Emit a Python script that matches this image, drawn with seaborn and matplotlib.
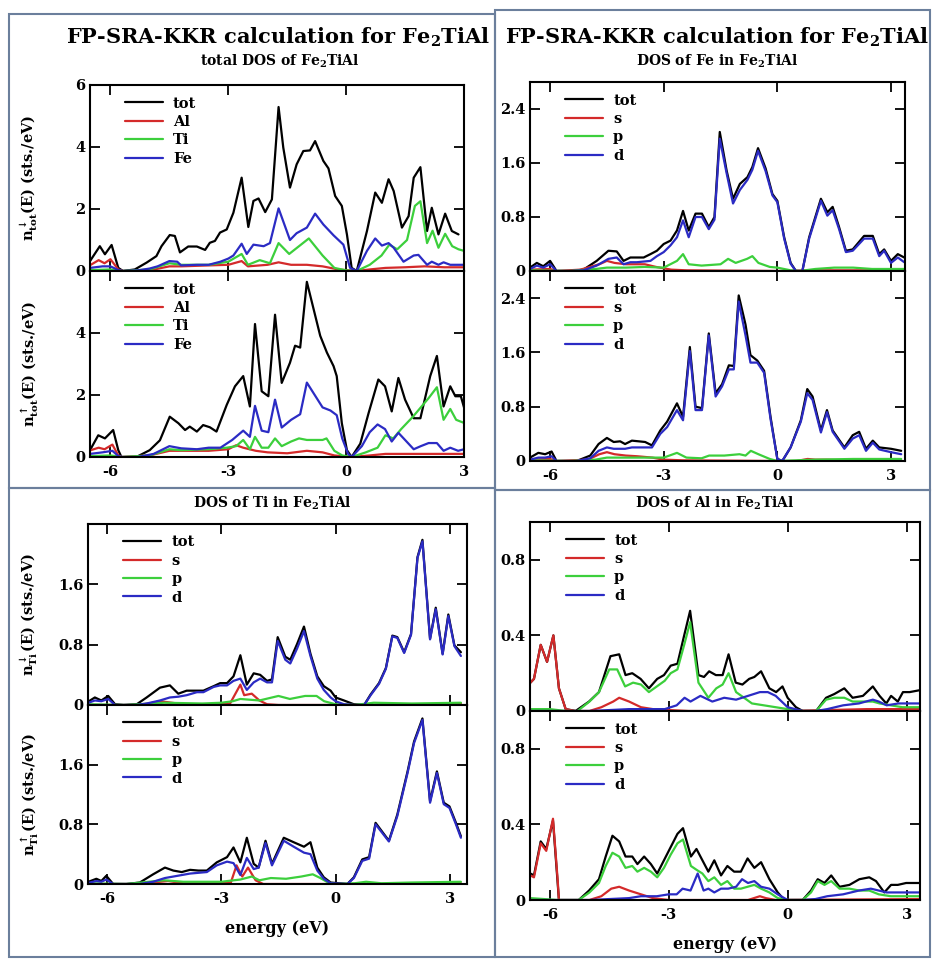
import matplotlib
matplotlib.use("Agg")
import matplotlib.pyplot as plt
import seaborn as sns

# ---- total DOS of Fe2TiAl (spin down) ----
t_tot_dn_e = [-6.52, -6.27, -6.14, -5.97, -5.80, -5.68, -5.38, -5.08, -4.83, -4.70, -4.49, -4.36, -4.23, -4.02, -3.80, -3.59, -3.47, -3.34, -3.21, -3.04, -2.87, -2.66, -2.49, -2.36, -2.23, -2.06, -1.89, -1.72, -1.60, -1.43, -1.26, -1.09, -0.92, -0.79, -0.58, -0.45, -0.28, -0.11, 0.02, 0.14, 0.27, 0.53, 0.74, 0.91, 1.08, 1.21, 1.42, 1.59, 1.72, 1.89, 2.06, 2.18, 2.35, 2.52, 2.69, 2.86]
t_tot_dn = [0.32, 0.80, 0.54, 0.84, 0.10, 0.00, 0.05, 0.27, 0.48, 0.80, 1.16, 1.13, 0.60, 0.79, 0.79, 0.68, 0.91, 0.97, 1.24, 1.34, 1.88, 3.01, 1.42, 2.26, 2.34, 1.90, 2.31, 5.29, 3.98, 2.69, 3.44, 3.87, 3.89, 4.19, 3.55, 3.31, 2.42, 2.10, 1.18, 0.10, 0.00, 1.29, 2.53, 2.20, 2.96, 2.58, 1.40, 1.77, 3.01, 3.35, 1.29, 2.04, 1.18, 1.85, 1.29, 1.18]
t_al_dn_e = [-6.5, -6.3, -6.15, -6.0, -5.8, -5.68, -5.0, -4.5, -4.2, -3.5, -3.0, -2.66, -2.5, -2.0, -1.72, -1.4, -1.0, -0.6, -0.2, 0.27, 0.6, 1.0, 1.5, 2.0, 2.5, 3.0]
t_al_dn = [0.20, 0.35, 0.25, 0.38, 0.05, 0.00, 0.02, 0.15, 0.15, 0.18, 0.20, 0.32, 0.15, 0.20, 0.28, 0.20, 0.20, 0.15, 0.05, 0.00, 0.05, 0.10, 0.12, 0.15, 0.12, 0.12]
t_ti_dn_e = [-6.5, -6.0, -5.7, -5.0, -4.5, -4.2, -3.5, -3.0, -2.66, -2.5, -2.2, -1.94, -1.72, -1.45, -1.2, -0.95, -0.6, -0.3, 0.0, 0.27, 0.6, 0.9, 1.1, 1.3, 1.55, 1.75, 1.89, 2.06, 2.2, 2.35, 2.52, 2.7, 2.86, 3.0]
t_ti_dn = [0.03, 0.05, 0.00, 0.05, 0.25, 0.20, 0.20, 0.30, 0.55, 0.20, 0.35, 0.25, 0.90, 0.55, 0.80, 1.05, 0.50, 0.10, 0.02, 0.00, 0.20, 0.50, 0.85, 0.70, 1.00, 2.10, 2.25, 0.90, 1.30, 0.75, 1.20, 0.80, 0.70, 0.65]
t_fe_dn_e = [-6.52, -6.2, -6.0, -5.8, -5.68, -5.3, -5.0, -4.8, -4.5, -4.3, -4.2, -3.8, -3.5, -3.2, -3.0, -2.87, -2.66, -2.53, -2.36, -2.1, -1.94, -1.72, -1.43, -1.26, -1.0, -0.79, -0.58, -0.32, -0.07, 0.1, 0.27, 0.53, 0.74, 0.91, 1.08, 1.21, 1.46, 1.72, 1.84, 2.06, 2.18, 2.35, 2.48, 2.65, 2.86, 3.0]
t_fe_dn = [0.10, 0.15, 0.15, 0.03, 0.00, 0.02, 0.08, 0.15, 0.32, 0.30, 0.18, 0.20, 0.20, 0.30, 0.40, 0.50, 0.88, 0.55, 0.85, 0.80, 0.90, 2.02, 1.00, 1.22, 1.40, 1.85, 1.50, 1.15, 0.85, 0.10, 0.00, 0.65, 1.05, 0.82, 0.90, 0.75, 0.30, 0.50, 0.52, 0.20, 0.30, 0.20, 0.28, 0.20, 0.20, 0.20]

# ---- total DOS of Fe2TiAl (spin up) ----
t_tot_up_e = [-6.52, -6.31, -6.14, -5.93, -5.80, -5.72, -5.34, -5.00, -4.74, -4.49, -4.27, -4.10, -3.98, -3.80, -3.64, -3.47, -3.30, -3.04, -2.83, -2.62, -2.45, -2.32, -2.15, -1.98, -1.81, -1.64, -1.43, -1.30, -1.17, -1.00, -0.83, -0.66, -0.49, -0.32, -0.24, -0.11, 0.02, 0.14, 0.36, 0.57, 0.82, 0.99, 1.16, 1.33, 1.50, 1.72, 1.89, 2.14, 2.31, 2.48, 2.65, 2.78, 2.92, 3.0]
t_tot_up = [0.22, 0.70, 0.60, 0.87, 0.22, 0.00, 0.00, 0.22, 0.54, 1.30, 1.09, 0.87, 0.98, 0.82, 1.03, 0.96, 0.82, 1.68, 2.28, 2.61, 1.63, 4.29, 2.12, 1.96, 4.59, 2.39, 3.04, 3.59, 3.53, 5.65, 4.78, 3.91, 3.37, 2.93, 2.61, 1.09, 0.22, 0.00, 0.43, 1.41, 2.50, 2.28, 1.47, 2.55, 1.85, 1.25, 1.25, 2.61, 3.26, 1.63, 2.28, 1.96, 1.96, 1.60]
t_al_up_e = [-6.5, -6.3, -6.15, -5.95, -5.8, -5.7, -5.0, -4.5, -3.5, -3.0, -2.8, -2.62, -2.3, -2.0, -1.5, -1.0, -0.6, -0.3, 0.14, 0.6, 1.0, 1.5, 2.0, 2.5, 3.0]
t_al_up = [0.22, 0.30, 0.25, 0.40, 0.05, 0.00, 0.05, 0.20, 0.20, 0.25, 0.38, 0.30, 0.20, 0.15, 0.12, 0.20, 0.15, 0.05, 0.00, 0.05, 0.10, 0.10, 0.10, 0.10, 0.10]
t_ti_up_e = [-6.5, -6.0, -5.7, -5.0, -4.5, -4.2, -3.5, -3.04, -2.8, -2.62, -2.45, -2.32, -2.15, -1.98, -1.81, -1.64, -1.4, -1.2, -1.0, -0.6, -0.5, -0.3, -0.1, 0.14, 0.5, 0.8, 1.0, 1.2, 1.4, 1.7, 2.1, 2.31, 2.48, 2.65, 2.8, 3.0]
t_ti_up = [0.03, 0.05, 0.00, 0.05, 0.25, 0.22, 0.25, 0.30, 0.35, 0.55, 0.25, 0.65, 0.30, 0.30, 0.60, 0.35, 0.50, 0.60, 0.55, 0.55, 0.60, 0.20, 0.05, 0.00, 0.15, 0.30, 0.70, 0.60, 0.90, 1.30, 1.90, 2.25, 1.20, 1.55, 1.20, 1.10]
t_fe_up_e = [-6.52, -6.2, -5.95, -5.8, -5.7, -5.3, -4.9, -4.5, -4.2, -3.8, -3.5, -3.2, -2.9, -2.62, -2.45, -2.32, -2.15, -1.98, -1.81, -1.64, -1.4, -1.17, -1.0, -0.8, -0.6, -0.4, -0.24, -0.1, 0.05, 0.14, 0.4, 0.6, 0.8, 0.99, 1.16, 1.33, 1.5, 1.72, 1.9, 2.1, 2.31, 2.48, 2.65, 2.85, 3.0]
t_fe_up = [0.10, 0.15, 0.20, 0.03, 0.00, 0.00, 0.10, 0.35, 0.28, 0.25, 0.30, 0.30, 0.55, 0.85, 0.65, 1.65, 0.85, 0.80, 1.85, 0.95, 1.20, 1.38, 2.40, 2.00, 1.60, 1.50, 1.35, 0.60, 0.10, 0.00, 0.35, 0.80, 1.05, 0.90, 0.50, 0.78, 0.55, 0.25, 0.35, 0.45, 0.45, 0.20, 0.30, 0.20, 0.25]

# ---- DOS of Fe (spin down) ----
fe_e_dn = [-6.53, -6.35, -6.18, -6.0, -5.83, -5.47, -5.12, -4.77, -4.46, -4.24, -4.06, -3.88, -3.71, -3.53, -3.35, -3.18, -3.0, -2.82, -2.65, -2.49, -2.34, -2.16, -1.99, -1.81, -1.66, -1.52, -1.34, -1.17, -0.99, -0.79, -0.66, -0.51, -0.31, -0.13, 0.0, 0.18, 0.35, 0.49, 0.66, 0.84, 1.15, 1.32, 1.46, 1.63, 1.81, 1.99, 2.29, 2.52, 2.69, 2.82, 3.0, 3.18, 3.35]
fe_tot_dn = [0.05, 0.12, 0.07, 0.15, 0.00, 0.00, 0.02, 0.15, 0.30, 0.29, 0.15, 0.20, 0.20, 0.20, 0.25, 0.30, 0.40, 0.45, 0.60, 0.89, 0.60, 0.85, 0.85, 0.65, 0.80, 2.06, 1.49, 1.07, 1.29, 1.39, 1.54, 1.82, 1.52, 1.14, 1.04, 0.50, 0.12, 0.00, 0.00, 0.50, 1.07, 0.87, 0.95, 0.65, 0.30, 0.32, 0.52, 0.52, 0.25, 0.32, 0.15, 0.25, 0.20]
fe_d_dn = [0.03, 0.08, 0.05, 0.10, 0.00, 0.00, 0.01, 0.08, 0.18, 0.20, 0.10, 0.13, 0.13, 0.14, 0.15, 0.22, 0.28, 0.38, 0.50, 0.75, 0.50, 0.80, 0.80, 0.62, 0.76, 1.96, 1.45, 1.00, 1.20, 1.35, 1.50, 1.78, 1.48, 1.12, 1.02, 0.48, 0.11, 0.00, 0.00, 0.48, 1.04, 0.82, 0.90, 0.62, 0.28, 0.30, 0.48, 0.48, 0.22, 0.30, 0.12, 0.20, 0.13]
fe_s_dn_e = [-6.53, -6.0, -5.83, -5.2, -4.7, -4.5, -4.3, -4.0, -3.5, -3.2, -2.8, -2.4, 0.0, 1.0, 2.0, 3.35]
fe_s_dn = [0.02, 0.03, 0.00, 0.02, 0.10, 0.15, 0.12, 0.10, 0.10, 0.06, 0.02, 0.01, 0.00, 0.01, 0.01, 0.01]
fe_p_dn_e = [-6.53, -5.5, -4.8, -4.5, -4.0, -3.5, -3.0, -2.65, -2.49, -2.34, -2.0, -1.5, -1.3, -1.1, -0.8, -0.66, -0.5, -0.2, 0.0, 0.35, 0.6, 1.0, 1.5, 2.0, 2.5, 3.35]
fe_p_dn = [0.01, 0.00, 0.03, 0.05, 0.05, 0.06, 0.05, 0.15, 0.25, 0.10, 0.08, 0.10, 0.18, 0.12, 0.18, 0.22, 0.12, 0.06, 0.05, 0.01, 0.00, 0.03, 0.05, 0.05, 0.03, 0.03]

# ---- DOS of Fe (spin up) ----
fe_e_up = [-6.53, -6.31, -6.13, -5.96, -5.83, -5.3, -4.94, -4.72, -4.5, -4.32, -4.15, -4.02, -3.84, -3.66, -3.49, -3.31, -3.09, -2.91, -2.65, -2.49, -2.31, -2.16, -1.99, -1.81, -1.63, -1.46, -1.28, -1.15, -1.02, -0.84, -0.71, -0.53, -0.35, -0.18, 0.0, 0.13, 0.35, 0.62, 0.79, 0.93, 1.15, 1.31, 1.46, 1.77, 1.99, 2.16, 2.34, 2.52, 2.69, 3.0, 3.27]
fe_tot_up = [0.05, 0.12, 0.10, 0.14, 0.00, 0.00, 0.08, 0.25, 0.34, 0.28, 0.29, 0.25, 0.30, 0.29, 0.28, 0.23, 0.45, 0.58, 0.85, 0.65, 1.68, 0.80, 0.78, 1.88, 1.00, 1.13, 1.41, 1.40, 2.44, 2.01, 1.56, 1.48, 1.33, 0.65, 0.03, 0.00, 0.20, 0.60, 1.06, 0.95, 0.45, 0.75, 0.45, 0.20, 0.38, 0.43, 0.18, 0.30, 0.20, 0.18, 0.15]
fe_d_up = [0.02, 0.05, 0.05, 0.07, 0.00, 0.00, 0.04, 0.15, 0.20, 0.18, 0.18, 0.18, 0.20, 0.20, 0.20, 0.20, 0.40, 0.50, 0.75, 0.60, 1.62, 0.75, 0.75, 1.85, 0.95, 1.10, 1.35, 1.35, 2.35, 1.85, 1.45, 1.45, 1.30, 0.62, 0.03, 0.00, 0.20, 0.58, 1.00, 0.90, 0.42, 0.72, 0.43, 0.18, 0.33, 0.38, 0.15, 0.27, 0.17, 0.13, 0.10]
fe_s_up_e = [-6.53, -6.0, -5.83, -5.0, -4.7, -4.5, -4.3, -4.0, -3.7, -3.3, -3.0, -2.5, 0.0, 0.5, 0.8, 1.0, 1.3, 2.0, 3.27]
fe_s_up = [0.02, 0.03, 0.00, 0.02, 0.10, 0.13, 0.10, 0.08, 0.07, 0.05, 0.02, 0.01, 0.00, 0.00, 0.03, 0.02, 0.02, 0.01, 0.01]
fe_p_up_e = [-6.53, -5.5, -4.8, -4.5, -3.5, -3.0, -2.65, -2.4, -2.0, -1.8, -1.4, -1.0, -0.84, -0.7, -0.5, -0.2, 0.0, 1.0, 2.0, 3.27]
fe_p_up = [0.01, 0.00, 0.02, 0.05, 0.05, 0.05, 0.12, 0.05, 0.04, 0.08, 0.08, 0.10, 0.08, 0.15, 0.10, 0.03, 0.00, 0.02, 0.03, 0.03]

# ---- DOS of Ti (spin down) ----
ti_e_dn = [-6.54, -6.32, -6.15, -5.97, -5.79, -5.57, -5.22, -4.96, -4.61, -4.35, -4.13, -3.91, -3.64, -3.47, -3.2, -3.03, -2.85, -2.68, -2.5, -2.33, -2.15, -1.98, -1.8, -1.67, -1.52, -1.32, -1.19, -1.01, -0.83, -0.66, -0.48, -0.31, -0.13, 0.0, 0.22, 0.48, 0.75, 0.92, 1.14, 1.32, 1.49, 1.62, 1.8, 1.98, 2.15, 2.28, 2.48, 2.63, 2.81, 2.96, 3.12, 3.29]
ti_tot_dn = [0.03, 0.10, 0.06, 0.12, 0.01, 0.00, 0.01, 0.10, 0.23, 0.26, 0.15, 0.19, 0.19, 0.19, 0.25, 0.29, 0.29, 0.38, 0.66, 0.27, 0.42, 0.40, 0.32, 0.34, 0.90, 0.64, 0.60, 0.81, 1.04, 0.68, 0.38, 0.25, 0.19, 0.10, 0.06, 0.01, 0.00, 0.14, 0.29, 0.49, 0.92, 0.90, 0.70, 0.94, 1.96, 2.19, 0.88, 1.29, 0.68, 1.20, 0.79, 0.70]
ti_d_dn = [0.02, 0.06, 0.05, 0.08, 0.00, 0.00, 0.00, 0.02, 0.06, 0.10, 0.11, 0.13, 0.17, 0.17, 0.24, 0.26, 0.26, 0.32, 0.35, 0.20, 0.30, 0.35, 0.30, 0.30, 0.85, 0.60, 0.55, 0.75, 0.98, 0.65, 0.35, 0.20, 0.10, 0.05, 0.01, 0.00, 0.00, 0.13, 0.28, 0.48, 0.91, 0.89, 0.69, 0.93, 1.95, 2.17, 0.87, 1.27, 0.67, 1.18, 0.78, 0.65]
ti_s_dn_e = [-6.54, -5.2, -4.9, -4.6, -4.3, -4.0, -3.0, -2.77, -2.5, -2.4, -2.2, -2.0, -1.8, -1.5, 2.5, 2.8, 3.29]
ti_s_dn = [0.00, 0.00, 0.02, 0.05, 0.03, 0.01, 0.01, 0.02, 0.27, 0.13, 0.15, 0.06, 0.01, 0.00, 0.00, 0.02, 0.02]
ti_p_dn_e = [-6.54, -5.5, -4.5, -3.5, -3.0, -2.7, -2.5, -2.0, -1.5, -1.2, -0.8, -0.5, -0.3, 0.0, 0.5, 1.0, 2.0, 3.29]
ti_p_dn = [0.01, 0.00, 0.03, 0.02, 0.03, 0.05, 0.08, 0.06, 0.12, 0.08, 0.12, 0.12, 0.05, 0.01, 0.00, 0.03, 0.02, 0.03]

# ---- DOS of Ti (spin up) ----
ti_e_up = [-6.54, -6.28, -6.15, -6.02, -5.84, -5.49, -5.14, -4.79, -4.48, -4.26, -4.04, -3.82, -3.6, -3.38, -3.12, -2.85, -2.68, -2.5, -2.33, -2.15, -2.02, -1.84, -1.67, -1.36, -1.1, -0.83, -0.66, -0.48, -0.31, -0.13, 0.31, 0.48, 0.7, 0.88, 1.05, 1.4, 1.62, 1.89, 2.06, 2.28, 2.48, 2.66, 2.84, 2.99, 3.16, 3.29]
ti_tot_up = [0.02, 0.07, 0.04, 0.11, 0.00, 0.00, 0.02, 0.13, 0.22, 0.18, 0.16, 0.19, 0.18, 0.18, 0.29, 0.36, 0.49, 0.29, 0.62, 0.27, 0.22, 0.58, 0.27, 0.62, 0.56, 0.50, 0.56, 0.22, 0.09, 0.02, 0.00, 0.09, 0.33, 0.36, 0.82, 0.58, 0.93, 1.51, 1.91, 2.22, 1.11, 1.51, 1.09, 1.04, 0.82, 0.64]
ti_d_up = [0.01, 0.04, 0.03, 0.06, 0.00, 0.00, 0.00, 0.03, 0.08, 0.10, 0.12, 0.14, 0.15, 0.16, 0.25, 0.30, 0.28, 0.12, 0.35, 0.20, 0.22, 0.55, 0.25, 0.58, 0.50, 0.42, 0.40, 0.18, 0.07, 0.01, 0.00, 0.08, 0.31, 0.34, 0.80, 0.57, 0.91, 1.49, 1.89, 2.20, 1.09, 1.49, 1.07, 1.02, 0.80, 0.62]
ti_s_up_e = [-6.54, -5.2, -4.8, -4.4, -4.0, -3.0, -2.75, -2.6, -2.45, -2.3, -2.1, -1.9, 2.5, 2.7, 3.29]
ti_s_up = [0.00, 0.00, 0.02, 0.04, 0.01, 0.01, 0.02, 0.25, 0.10, 0.22, 0.05, 0.00, 0.00, 0.02, 0.01]
ti_p_up_e = [-6.54, -5.5, -4.5, -4.0, -3.0, -2.5, -2.2, -2.0, -1.7, -1.3, -0.9, -0.6, -0.4, -0.2, 0.0, 0.5, 0.8, 1.2, 2.0, 3.29]
ti_p_up = [0.01, 0.00, 0.05, 0.03, 0.03, 0.06, 0.10, 0.05, 0.08, 0.07, 0.10, 0.13, 0.08, 0.02, 0.00, 0.01, 0.03, 0.01, 0.02, 0.03]

# ---- DOS of Al (spin down) ----
al_tot_dn_e = [-6.49, -6.4, -6.23, -6.07, -5.91, -5.77, -5.6, -5.35, -5.01, -4.76, -4.47, -4.25, -4.09, -3.92, -3.71, -3.5, -3.29, -3.12, -2.95, -2.78, -2.61, -2.46, -2.25, -2.11, -1.98, -1.81, -1.64, -1.49, -1.31, -1.14, -0.97, -0.84, -0.67, -0.46, -0.29, -0.13, 0.0, 0.21, 0.38, 0.72, 0.97, 1.18, 1.43, 1.64, 1.9, 2.15, 2.32, 2.49, 2.61, 2.78, 2.91, 3.08, 3.33]
al_tot_dn = [0.15, 0.17, 0.35, 0.26, 0.40, 0.12, 0.01, 0.00, 0.05, 0.10, 0.29, 0.30, 0.19, 0.20, 0.17, 0.12, 0.17, 0.19, 0.24, 0.25, 0.40, 0.53, 0.19, 0.18, 0.21, 0.19, 0.19, 0.30, 0.15, 0.14, 0.17, 0.18, 0.21, 0.12, 0.10, 0.13, 0.07, 0.02, 0.00, 0.00, 0.07, 0.09, 0.12, 0.07, 0.08, 0.13, 0.08, 0.04, 0.08, 0.05, 0.10, 0.10, 0.11]
al_s_dn_e = [-6.49, -6.4, -6.23, -6.07, -5.91, -5.77, -5.6, -5.35, -5.0, -4.7, -4.4, -4.25, -4.0, -3.7, -3.4, -3.0, -2.5, 0.0, 1.0, 2.0, 3.33]
al_s_dn = [0.15, 0.17, 0.35, 0.26, 0.40, 0.12, 0.01, 0.00, 0.00, 0.02, 0.05, 0.07, 0.05, 0.02, 0.01, 0.005, 0.00, 0.00, 0.005, 0.01, 0.01]
al_p_dn_e = [-6.49, -6.0, -5.6, -5.3, -5.0, -4.76, -4.5, -4.3, -4.1, -3.9, -3.7, -3.5, -3.3, -3.1, -2.95, -2.78, -2.61, -2.46, -2.25, -2.0, -1.8, -1.64, -1.49, -1.3, -1.1, -0.9, -0.6, -0.3, 0.0, 0.38, 0.72, 0.97, 1.18, 1.43, 1.64, 1.9, 2.15, 2.32, 2.6, 2.9, 3.33]
al_p_dn = [0.01, 0.01, 0.00, 0.00, 0.05, 0.10, 0.22, 0.22, 0.13, 0.15, 0.14, 0.10, 0.13, 0.16, 0.20, 0.22, 0.35, 0.47, 0.15, 0.07, 0.12, 0.14, 0.20, 0.10, 0.07, 0.04, 0.03, 0.02, 0.01, 0.00, 0.00, 0.06, 0.07, 0.07, 0.05, 0.05, 0.05, 0.04, 0.03, 0.02, 0.02]
al_d_dn_e = [-6.49, -5.0, -4.5, -4.0, -3.5, -3.1, -2.8, -2.6, -2.45, -2.2, -1.9, -1.6, -1.3, -1.0, -0.7, -0.5, -0.3, 0.0, 0.38, 0.72, 1.0, 1.4, 1.8, 2.15, 2.3, 2.5, 2.8, 3.33]
al_d_dn = [0.00, 0.00, 0.005, 0.01, 0.01, 0.01, 0.03, 0.07, 0.05, 0.08, 0.05, 0.07, 0.06, 0.08, 0.10, 0.10, 0.08, 0.02, 0.00, 0.00, 0.01, 0.03, 0.04, 0.06, 0.05, 0.03, 0.04, 0.04]

# ---- DOS of Al (spin up) ----
al_tot_up_e = [-6.49, -6.4, -6.23, -6.09, -5.92, -5.77, -5.27, -5.01, -4.76, -4.59, -4.42, -4.25, -4.09, -3.92, -3.79, -3.62, -3.45, -3.29, -3.12, -2.95, -2.78, -2.64, -2.44, -2.3, -2.15, -2.0, -1.85, -1.68, -1.52, -1.35, -1.18, -1.01, -0.84, -0.67, -0.46, -0.25, -0.08, 0.38, 0.59, 0.76, 0.93, 1.1, 1.31, 1.56, 1.81, 2.06, 2.23, 2.44, 2.61, 2.78, 2.99, 3.33]
al_tot_up = [0.14, 0.13, 0.31, 0.27, 0.42, 0.00, 0.00, 0.05, 0.11, 0.23, 0.34, 0.31, 0.23, 0.23, 0.19, 0.23, 0.19, 0.14, 0.21, 0.28, 0.35, 0.38, 0.23, 0.27, 0.21, 0.15, 0.21, 0.13, 0.18, 0.15, 0.15, 0.22, 0.17, 0.20, 0.11, 0.04, 0.00, 0.00, 0.05, 0.11, 0.09, 0.13, 0.07, 0.08, 0.11, 0.12, 0.10, 0.04, 0.08, 0.08, 0.09, 0.09]
al_s_up_e = [-6.49, -6.4, -6.23, -6.09, -5.92, -5.8, -5.77, -5.0, -4.7, -4.45, -4.25, -4.0, -3.7, -3.4, -3.0, -1.0, -0.7, -0.55, -0.3, 3.33]
al_s_up = [0.13, 0.12, 0.30, 0.26, 0.43, 0.10, 0.00, 0.00, 0.02, 0.06, 0.07, 0.05, 0.03, 0.01, 0.00, 0.00, 0.02, 0.01, 0.00, 0.005]
al_p_up_e = [-6.49, -5.8, -5.27, -5.0, -4.76, -4.59, -4.42, -4.25, -4.09, -3.92, -3.79, -3.62, -3.45, -3.29, -3.12, -2.95, -2.78, -2.64, -2.44, -2.3, -2.15, -2.0, -1.85, -1.68, -1.52, -1.35, -1.18, -1.01, -0.84, -0.67, -0.46, -0.25, 0.0, 0.38, 0.59, 0.76, 0.93, 1.1, 1.31, 1.56, 1.81, 2.06, 2.3, 2.6, 3.0, 3.33]
al_p_up = [0.01, 0.00, 0.00, 0.04, 0.09, 0.18, 0.25, 0.23, 0.17, 0.18, 0.15, 0.17, 0.15, 0.12, 0.17, 0.24, 0.30, 0.32, 0.18, 0.16, 0.14, 0.10, 0.12, 0.08, 0.10, 0.06, 0.06, 0.07, 0.08, 0.06, 0.04, 0.01, 0.00, 0.00, 0.04, 0.10, 0.08, 0.10, 0.06, 0.06, 0.05, 0.05, 0.03, 0.02, 0.02, 0.02]
al_d_up_e = [-6.49, -5.0, -4.5, -4.0, -3.7, -3.3, -3.0, -2.8, -2.65, -2.45, -2.27, -2.12, -2.0, -1.85, -1.68, -1.5, -1.3, -1.15, -1.0, -0.84, -0.67, -0.46, -0.25, 0.0, 0.38, 0.7, 1.0, 1.4, 1.8, 2.1, 2.3, 2.5, 2.8, 3.33]
al_d_up = [0.00, 0.00, 0.005, 0.01, 0.02, 0.02, 0.03, 0.03, 0.06, 0.05, 0.14, 0.05, 0.06, 0.04, 0.06, 0.06, 0.07, 0.11, 0.09, 0.10, 0.07, 0.06, 0.03, 0.00, 0.00, 0.005, 0.02, 0.03, 0.05, 0.06, 0.05, 0.04, 0.04, 0.04]

x_ticks = [-6, -3, 0, 3]
x_ticklabels = ["-6", "-3", "0", "3"]

BLACK, RED, GREEN, BLUE = "black", "#d42a2a", "#3ccf3c", "#2b2bc4"

sns.set_theme(style="ticks")
plt.rcParams["font.family"] = ["DejaVu Serif"]
plt.rcParams["font.weight"] = "bold"
plt.rcParams["axes.labelweight"] = "bold"
plt.rcParams["text.color"] = "black"
plt.rcParams["axes.labelcolor"] = "black"
plt.rcParams["mathtext.fontset"] = "dejavuserif"
plt.rcParams["mathtext.default"] = "bf"

fig = plt.figure(figsize=(9.36, 9.6), dpi=100)
W, H = 936.0, 960.0


def add_ax(left, right, top, bottom):
    return fig.add_axes([left / W, 1 - bottom / H, (right - left) / W, (bottom - top) / H])


def panel(ax, curves, xlim, ylim, yticks, yticklabels, show_x):
    for e, v, col, lab in curves:
        sns.lineplot(x=e, y=v, ax=ax, color=col, linewidth=1.6, label=lab,
                     estimator=None, sort=False)
    ax.set_xlim(*xlim)
    ax.set_ylim(*ylim)
    ax.set_xticks(x_ticks)
    ax.set_xticklabels(x_ticklabels if show_x else [])
    ax.set_yticks(yticks)
    ax.set_yticklabels(yticklabels)
    ax.tick_params(direction="in", length=7, width=1.3, top=True, right=True,
                   labelsize=10.5, colors="black")
    ax.tick_params(axis="x", pad=6)
    for s in ax.spines.values():
        s.set_linewidth(1.5)
        s.set_color("black")
    ax.set_xlabel("")
    ax.set_ylabel("")
    ax.legend(loc="upper left", bbox_to_anchor=(0.07, 0.985), frameon=False,
              fontsize=10.5, handlelength=2.6, handletextpad=0.7,
              labelspacing=0.3, borderaxespad=0.2)


# total DOS
a = add_ax(90, 464, 85, 271)
panel(a, [(t_tot_dn_e, t_tot_dn, BLACK, "tot"), (t_al_dn_e, t_al_dn, RED, "Al"),
          (t_ti_dn_e, t_ti_dn, GREEN, "Ti"), (t_fe_dn_e, t_fe_dn, BLUE, "Fe")],
      (-6.52, 3.0), (0, 6), [0, 2, 4, 6], ["0", "2", "4", "6"], False)
a.set_ylabel(r"n$_{tot}^{\downarrow}$(E) (sts./eV)", fontsize=10.5)
a.yaxis.set_label_coords(-0.135, 0.5)
a = add_ax(90, 464, 271, 457)
panel(a, [(t_tot_up_e, t_tot_up, BLACK, "tot"), (t_al_up_e, t_al_up, RED, "Al"),
          (t_ti_up_e, t_ti_up, GREEN, "Ti"), (t_fe_up_e, t_fe_up, BLUE, "Fe")],
      (-6.52, 3.0), (0, 6), [0, 2, 4], ["0", "2", "4"], True)
a.set_ylabel(r"n$_{tot}^{\uparrow}$(E) (sts./eV)", fontsize=10.5)
a.yaxis.set_label_coords(-0.135, 0.5)

# Fe
a = add_ax(530, 905, 82, 271)
panel(a, [(fe_e_dn, fe_tot_dn, BLACK, "tot"), (fe_s_dn_e, fe_s_dn, RED, "s"),
          (fe_p_dn_e, fe_p_dn, GREEN, "p"), (fe_e_dn, fe_d_dn, BLUE, "d")],
      (-6.53, 3.37), (0, 2.8), [0, 0.8, 1.6, 2.4], ["0", "0.8", "1.6", "2.4"], False)
a = add_ax(530, 905, 271, 461)
panel(a, [(fe_e_up, fe_tot_up, BLACK, "tot"), (fe_s_up_e, fe_s_up, RED, "s"),
          (fe_p_up_e, fe_p_up, GREEN, "p"), (fe_e_up, fe_d_up, BLUE, "d")],
      (-6.53, 3.37), (0, 2.8), [0, 0.8, 1.6, 2.4], ["0", "0.8", "1.6", "2.4"], True)

# Ti
a = add_ax(88, 467, 524, 705)
panel(a, [(ti_e_dn, ti_tot_dn, BLACK, "tot"), (ti_s_dn_e, ti_s_dn, RED, "s"),
          (ti_p_dn_e, ti_p_dn, GREEN, "p"), (ti_e_dn, ti_d_dn, BLUE, "d")],
      (-6.5, 3.45), (0, 2.4), [0, 0.8, 1.6], ["0", "0.8", "1.6"], False)
a.set_ylabel(r"n$_{Ti}^{\downarrow}$(E) (sts./eV)", fontsize=10.5)
a.yaxis.set_label_coords(-0.127, 0.5)
a = add_ax(88, 467, 705, 884)
panel(a, [(ti_e_up, ti_tot_up, BLACK, "tot"), (ti_s_up_e, ti_s_up, RED, "s"),
          (ti_p_up_e, ti_p_up, GREEN, "p"), (ti_e_up, ti_d_up, BLUE, "d")],
      (-6.5, 3.45), (0, 2.4), [0, 0.8, 1.6], ["0", "0.8", "1.6"], True)
a.set_ylabel(r"n$_{Ti}^{\uparrow}$(E) (sts./eV)", fontsize=10.5)
a.yaxis.set_label_coords(-0.127, 0.5)
a.set_xlabel("energy (eV)", fontsize=11.5)
a.xaxis.set_label_coords(0.5, -0.2)

# Al
a = add_ax(530, 920, 522, 711)
panel(a, [(al_tot_dn_e, al_tot_dn, BLACK, "tot"), (al_s_dn_e, al_s_dn, RED, "s"),
          (al_p_dn_e, al_p_dn, GREEN, "p"), (al_d_dn_e, al_d_dn, BLUE, "d")],
      (-6.5, 3.34), (0, 1.0), [0, 0.4, 0.8], ["0", "0.4", "0.8"], False)
a = add_ax(530, 920, 711, 900)
panel(a, [(al_tot_up_e, al_tot_up, BLACK, "tot"), (al_s_up_e, al_s_up, RED, "s"),
          (al_p_up_e, al_p_up, GREEN, "p"), (al_d_up_e, al_d_up, BLUE, "d")],
      (-6.5, 3.34), (0, 1.0), [0, 0.4, 0.8], ["0", "0.4", "0.8"], True)
a.set_xlabel("energy (eV)", fontsize=11.5)
a.xaxis.set_label_coords(0.5, -0.19)

# titles
main = r"FP-SRA-KKR calculation for Fe$_2$TiAl"
fig.text(278 / W, 1 - 37 / H, main, ha="center", va="center", fontsize=15)
fig.text(717 / W, 1 - 37 / H, main, ha="center", va="center", fontsize=15)
fig.text(280 / W, 1 - 61 / H, r"total DOS of Fe$_2$TiAl", ha="center", va="center", fontsize=10)
fig.text(717 / W, 1 - 61 / H, r"DOS of Fe in Fe$_2$TiAl", ha="center", va="center", fontsize=10)
fig.text(272 / W, 1 - 503 / H, r"DOS of Ti in Fe$_2$TiAl", ha="center", va="center", fontsize=10)
fig.text(715 / W, 1 - 503 / H, r"DOS of Al in Fe$_2$TiAl", ha="center", va="center", fontsize=10)

# quadrant frames
for x0, y0, x1, y1 in [(9, 14, 495, 488), (495, 10, 930, 490), (9, 488, 495, 957), (495, 490, 930, 957)]:
    fig.add_artist(plt.Rectangle((x0 / W, 1 - y1 / H), (x1 - x0) / W, (y1 - y0) / H,
                                 transform=fig.transFigure, fill=False,
                                 edgecolor="#6b7f9c", linewidth=1.5))

fig.savefig("out.png", dpi=100)
